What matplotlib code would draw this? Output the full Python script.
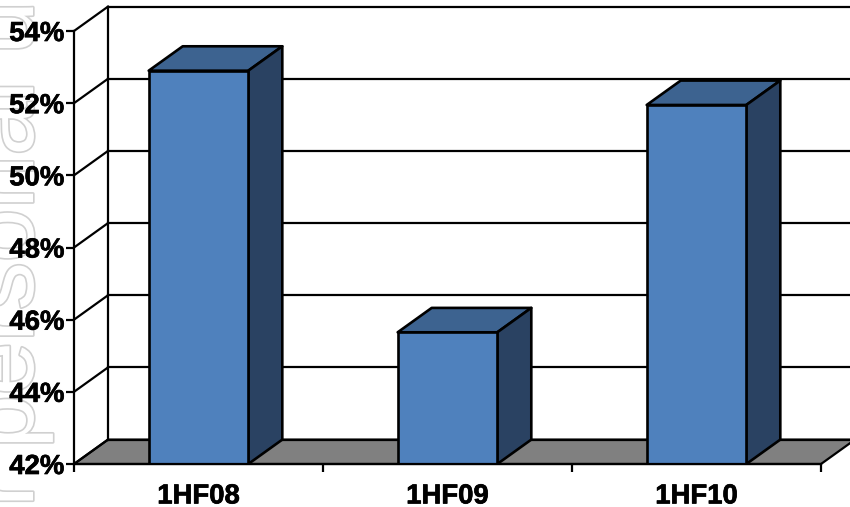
import matplotlib
matplotlib.use('Agg')
import matplotlib.pyplot as plt
import matplotlib.patheffects as pe

plt.rcParams['font.family'] = ['Liberation Sans', 'DejaVu Sans']

categories = ['1HF08', '1HF09', '1HF10']
values = [52.9, 45.65, 51.95]
y_ticks = [42, 44, 46, 48, 50, 52, 54]

W, H = 850, 507
LW = 1.6
BAR_LW = 1.9

# 3D look: how far the back wall sits from the front plane, in data units
depth_x = 34 / 249
depth_y = 24.4 / 36.08
bar_width = 0.4

fig = plt.figure(figsize=(W / 100, H / 100), dpi=100, facecolor='white')

# faint outlined stamp running up the left edge, behind the axes
fig.text(33 / W, 1 - 587 / H, 'for personal use', rotation=90, rotation_mode='anchor',
         ha='left', va='baseline', fontsize=69, color='white', zorder=-1,
         path_effects=[pe.Stroke(linewidth=2.4, foreground='#d0d0d0'), pe.Normal()])

ax = fig.add_axes([74 / W, 1 - 464 / H, 747 / W, 433 / H], zorder=1)
ax.patch.set_visible(False)
ax.set_xlim(0, 3)
ax.set_ylim(42, 54)

for side in ['top', 'right']:
    ax.spines[side].set_visible(False)
for side in ['left', 'bottom']:
    ax.spines[side].set_linewidth(LW)
    ax.spines[side].set_zorder(5)

# floor
ax.fill([0, 3, 3 + depth_x, depth_x], [42, 42, 42 + depth_y, 42 + depth_y],
        facecolor='#808080', edgecolor='black', linewidth=LW, clip_on=False, zorder=1)

# back wall grid and the diagonals on the side wall
x_right = 3 + 2 * depth_x
for t in y_ticks:
    ax.plot([0, depth_x], [t, t + depth_y], color='black', lw=LW, clip_on=False, zorder=2)
    ax.plot([depth_x, x_right], [t + depth_y, t + depth_y], color='black', lw=LW, clip_on=False, zorder=2)
ax.plot([depth_x, depth_x], [42 + depth_y, 54 + depth_y], color='black', lw=LW, clip_on=False, zorder=2)

# bars: front face, then top and right side
for i, v in enumerate(values):
    left = i + 0.5 - bar_width / 2
    right = left + bar_width
    ax.bar(i + 0.5, v - 42, width=bar_width, bottom=42, facecolor='#4F81BD',
           edgecolor='black', linewidth=BAR_LW, zorder=4)
    ax.fill([left, right, right + depth_x, left + depth_x], [v, v, v + depth_y, v + depth_y],
            facecolor='#3D6390', edgecolor='black', linewidth=BAR_LW, joinstyle='round', zorder=3)
    ax.fill([right, right + depth_x, right + depth_x, right], [42, 42 + depth_y, v + depth_y, v],
            facecolor='#2A4262', edgecolor='black', linewidth=BAR_LW, joinstyle='round', zorder=3)

# slightly heavier lettering than the plain bold face
heavy = [pe.withStroke(linewidth=0.5, foreground='black')]

ax.set_yticks(y_ticks)
ax.set_yticklabels([f'{t}%' for t in y_ticks], fontsize=19.8, fontweight='bold', path_effects=heavy)
ax.tick_params(axis='y', length=6, width=LW, pad=1)

ax.set_xticks([0, 1, 2, 3])
ax.set_xticklabels([])
ax.tick_params(axis='x', which='major', length=6, width=LW)
ax.set_xticks([0.5, 1.5, 2.5], minor=True)
ax.set_xticklabels(categories, minor=True, fontsize=19.8, fontweight='bold', path_effects=heavy)
ax.tick_params(axis='x', which='minor', length=0, pad=14)

fig.savefig('out.png', dpi=100)
